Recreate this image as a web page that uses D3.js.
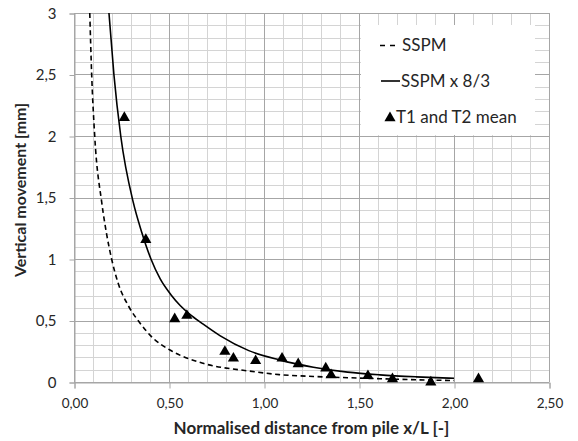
<!DOCTYPE html>
<html>
<head>
<meta charset="utf-8">
<script src="https://cdn.jsdelivr.net/npm/d3@7"></script>
<style>
  body { margin: 0; background: #fff; }
  svg text { font-family: Lato, "Open Sans", sans-serif; fill: #262626; }
</style>
</head>
<body>
<div id="chart"></div>
<script>
// SSPM curve (dashed)
const sspmX = [0.083, 0.093, 0.109, 0.146, 0.172, 0.198, 0.233, 0.286, 0.347, 0.417, 0.505, 0.68, 0.917, 1.08, 1.26, 1.44, 1.61, 1.80, 2.00];
const sspmY = [3.00, 2.50, 2.00, 1.46, 1.20, 1.00, 0.80, 0.62, 0.48, 0.355, 0.26, 0.152, 0.09, 0.06, 0.045, 0.035, 0.027, 0.018, 0.012];

// SSPM x 8/3 curve (solid)
const sspm83X = [0.184, 0.21, 0.246, 0.312, 0.356, 0.405, 0.453, 0.51, 0.56, 0.61, 0.68, 0.77, 0.92, 1.08, 1.26, 1.44, 1.61, 1.80, 2.00];
const sspm83Y = [3.00, 2.50, 2.00, 1.46, 1.22, 1.00, 0.84, 0.71, 0.62, 0.55, 0.47, 0.375, 0.255, 0.18, 0.12, 0.08, 0.058, 0.042, 0.030];

// T1 and T2 mean (triangles)
const meanX = [0.265, 0.378, 0.53, 0.594, 0.794, 0.839, 0.956, 1.095, 1.18, 1.325, 1.353, 1.547, 1.676, 1.878, 2.129];
const meanY = [2.157, 1.165, 0.52, 0.548, 0.255, 0.20, 0.18, 0.20, 0.155, 0.12, 0.065, 0.058, 0.032, 0.006, 0.032];

const xTicks = [0, 0.5, 1, 1.5, 2, 2.5];
const xTickLabels = ["0,00", "0,50", "1,00", "1,50", "2,00", "2,50"];
const yTicks = [0, 0.5, 1, 1.5, 2, 2.5, 3];
const yTickLabels = ["0", "0,5", "1", "1,5", "2", "2,5", "3"];

const legendLabels = ["SSPM", "SSPM x 8/3", "T1 and T2 mean"];

const margin = { top: 13, right: 29, bottom: 59, left: 74 };
const width = 578 - margin.left - margin.right;
const height = 441 - margin.top - margin.bottom;

const svg = d3.select("#chart")
    .append("svg")
    .attr("width", 578)
    .attr("height", 441);

const g = svg.append("g")
    .attr("transform", `translate(${margin.left},${margin.top})`);

const x = d3.scaleLinear().domain([0, 2.5]).range([0, width]);
const y = d3.scaleLinear().domain([0, 3]).range([height, 0]);

// minor grid every 0.1
g.append("g")
    .selectAll("line")
    .data(x.ticks(25))
    .enter().append("line")
    .attr("x1", d => Math.round(x(d)) + 0.5)
    .attr("x2", d => Math.round(x(d)) + 0.5)
    .attr("y1", 0).attr("y2", height)
    .attr("stroke", "#d4d4d4");

g.append("g")
    .selectAll("line")
    .data(y.ticks(30))
    .enter().append("line")
    .attr("y1", d => Math.round(y(d)) + 0.5)
    .attr("y2", d => Math.round(y(d)) + 0.5)
    .attr("x1", 0).attr("x2", width)
    .attr("stroke", "#d4d4d4");

// major grid every 0.5
g.append("g")
    .selectAll("line")
    .data(xTicks)
    .enter().append("line")
    .attr("x1", d => Math.round(x(d)) + 0.5)
    .attr("x2", d => Math.round(x(d)) + 0.5)
    .attr("y1", 0).attr("y2", height)
    .attr("stroke", "#a6a6a6");

g.append("g")
    .selectAll("line")
    .data(yTicks)
    .enter().append("line")
    .attr("y1", d => Math.round(y(d)) + 0.5)
    .attr("y2", d => Math.round(y(d)) + 0.5)
    .attr("x1", 0).attr("x2", width)
    .attr("stroke", "#a6a6a6");

// X Axis
const xAxis = g.append("g")
    .attr("transform", `translate(0.5,${Math.round(height) + 0.5})`)
    .call(d3.axisBottom(x)
        .tickValues(xTicks)
        .tickFormat((d, i) => xTickLabels[i])
        .tickSize(6)
        .tickPadding(10));
xAxis.select(".domain").attr("stroke", "#a6a6a6");
xAxis.selectAll(".tick line").attr("stroke", "#a6a6a6");
xAxis.selectAll("text").style("font-size", "13.5px").attr("fill", "#262626");

// Y Axis
const yAxis = g.append("g")
    .attr("transform", "translate(0.5,0.5)")
    .call(d3.axisLeft(y)
        .tickValues(yTicks)
        .tickFormat((d, i) => yTickLabels[i])
        .tickSize(5)
        .tickPadding(13));
yAxis.select(".domain").attr("stroke", "#a6a6a6");
yAxis.selectAll(".tick line").attr("stroke", "#a6a6a6");
yAxis.selectAll("text").style("font-size", "15px").attr("fill", "#262626");

// axis titles
svg.append("text")
    .attr("x", margin.left + width / 2)
    .attr("y", 434)
    .attr("text-anchor", "middle")
    .style("font-size", "17px")
    .style("font-weight", "bold")
    .text("Normalised distance from pile x/L [-]");

svg.append("text")
    .attr("transform", "translate(26,190) rotate(-90)")
    .attr("text-anchor", "middle")
    .style("font-size", "16px")
    .style("font-weight", "bold")
    .text("Vertical movement [mm]");

// curves
const line = d3.line()
    .x(d => x(d[0]))
    .y(d => y(d[1]))
    .curve(d3.curveMonotoneX);

g.append("path")
    .datum(d3.zip(sspmX, sspmY))
    .attr("fill", "none")
    .attr("stroke", "#000")
    .attr("stroke-width", 1.6)
    .attr("stroke-dasharray", "5,3.5")
    .attr("d", line);

g.append("path")
    .datum(d3.zip(sspm83X, sspm83Y))
    .attr("fill", "none")
    .attr("stroke", "#000")
    .attr("stroke-width", 1.6)
    .attr("d", line);

// triangle markers
const tri = d3.symbol().type(d3.symbolTriangle).size(54);
g.selectAll("path.mark")
    .data(d3.zip(meanX, meanY))
    .enter().append("path")
    .attr("class", "mark")
    .attr("d", tri)
    .attr("transform", d => `translate(${x(d[0])},${y(d[1]) + 1})`)
    .attr("fill", "#000");

// legend
const leg = svg.append("g");
leg.append("rect")
    .attr("x", 361).attr("y", 25)
    .attr("width", 174).attr("height", 110)
    .attr("fill", "#fff");

leg.append("line")
    .attr("x1", 380).attr("x2", 396)
    .attr("y1", 45.5).attr("y2", 45.5)
    .attr("stroke", "#000").attr("stroke-width", 1.6)
    .attr("stroke-dasharray", "5,5");
leg.append("line")
    .attr("x1", 381).attr("x2", 400)
    .attr("y1", 81).attr("y2", 81)
    .attr("stroke", "#000").attr("stroke-width", 1.6);
leg.append("path")
    .attr("d", tri)
    .attr("transform", "translate(390,118)")
    .attr("fill", "#000");

const legX = [402, 401, 396];
const legY = [51, 87, 123];
leg.selectAll("text")
    .data(legendLabels)
    .enter().append("text")
    .attr("x", (d, i) => legX[i])
    .attr("y", (d, i) => legY[i])
    .style("font-size", "17px")
    .text(d => d);
</script>
</body>
</html>
